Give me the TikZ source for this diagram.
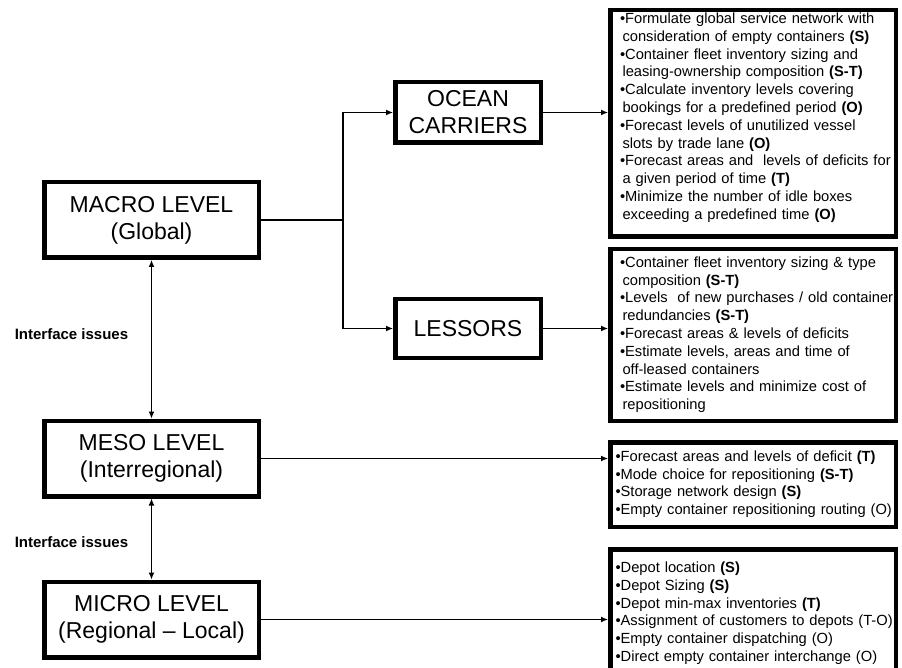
\documentclass[tikz,border=0pt]{standalone}
\usepackage{fontspec}
\setmainfont{Liberation Sans}
\usetikzlibrary{arrows.meta, positioning, calc}

\tikzset{
  level/.style={draw, line width=4.5pt, minimum width=214.5pt, minimum height=75.5pt, inner sep=0pt, align=center, font=\fontsize{23}{27}\selectfont},
  actor/.style={draw, line width=4.5pt, minimum width=145.5pt, inner sep=0pt, align=center, font=\fontsize{23}{27}\selectfont},
  tasks/.style={draw, line width=4.5pt, text width=266pt, inner xsep=9.75pt, inner ysep=0pt, align=left, font=\fontsize{14.7}{17.8}\selectfont},
  narrow/.style={text width=275pt, inner xsep=5.25pt},
  issue/.style={font=\bfseries\fontsize{15}{18}\selectfont},
  link/.style={line width=1.2pt},
  >={Latex[length=7pt,width=6pt]}
}
\newcommand{\code}[1]{\textbf{#1}}
\newcommand{\cont}{\hspace*{2.5pt}}

\begin{document}
\begin{tikzpicture}[x=1pt,y=-1pt]
\useasboundingbox (0,0) rectangle (902,668);
\node[level] (macro) at (151.5,220) {MACRO LEVEL\\(Global)};
\node[level] (meso) at (151.5,458.5) {MESO LEVEL\\(Interregional)};
\node[level] (micro) at (151.5,619.5) {MICRO LEVEL\\(Regional – Local)};
\node[actor, minimum height=60.5pt] (carriers) at (468,112.5) {OCEAN\\CARRIERS};
\node[actor, minimum height=58.5pt] (lessors) at (468,328.5) {LESSORS};
\node[issue] (issue1) at (71.5,334) {Interface issues};
\node[issue] (issue2) at (71.5,542) {Interface issues};
\node[tasks, minimum height=226.5pt, text depth=16.6pt] (carrierlist) at (753,123.5) {\begin{tabular}[b]{@{}l@{}}
  •Formulate global service network with\\
  \cont consideration of empty containers \code{(S)}\\
  •Container fleet inventory sizing and\\
  \cont leasing-ownership composition \code{(S-T)}\\
  •Calculate inventory levels covering\\
  \cont bookings for a predefined period \code{(O)}\\
  •Forecast levels of unutilized vessel\\
  \cont slots by trade lane \code{(O)}\\
  •Forecast areas and~ levels of deficits for\\
  \cont a given period of time \code{(T)}\\
  •Minimize the number of idle boxes\\
  \cont exceeding a predefined time \code{(O)}
\end{tabular}};
\node[tasks, minimum height=171.5pt] (lessorlist) at (753,335) {\begin{tabular}[b]{@{}l@{}}
  •Container fleet inventory sizing \& type\\
  \cont composition \code{(S-T)}\\
  •Levels~ of new purchases / old container\\
  \cont redundancies \code{(S-T)}\\
  •Forecast areas \& levels of deficits\\
  •Estimate levels, areas and time of\\
  \cont off-leased containers\\
  •Estimate levels and minimize cost of\\
  \cont repositioning
\end{tabular}};
\node[tasks, narrow, minimum height=84.5pt] (mesolist) at (753,484.5) {\begin{tabular}[b]{@{}l@{}}
  •Forecast areas and levels of deficit \code{(T)}\\
  •Mode choice for repositioning \code{(S-T)}\\
  •Storage network design \code{(S)}\\
  •Empty container repositioning routing (O)
\end{tabular}};
\node[tasks, narrow, minimum height=128.5pt] (microlist) at (753,613.5) {\begin{tabular}[b]{@{}l@{}}
  •Depot location \code{(S)}\\
  •Depot Sizing \code{(S)}\\
  •Depot min-max inventories \code{(T)}\\
  •Assignment of customers to depots (T-O)\\
  •Empty container dispatching (O)\\
  •Direct empty container interchange (O)
\end{tabular}};
\coordinate (split) at (343,220);
\draw[link] (macro.east) -- (split);
\draw[link,->] (split) |- (carriers.west);
\draw[link,->] (split) |- (lessors.west);
\draw[link,->] (carriers.east) -- (carriers.east -| carrierlist.west);
\draw[link,->] (lessors.east) -- (lessors.east -| lessorlist.west);
\draw[link,->] (meso.east) -- (meso.east -| mesolist.west);
\draw[link,->] (micro.east) -- (micro.east -| microlist.west);
\draw[link,<->] (macro.south) -- (meso.north);
\draw[link,<->] (meso.south) -- (micro.north);
\end{tikzpicture}
\end{document}
